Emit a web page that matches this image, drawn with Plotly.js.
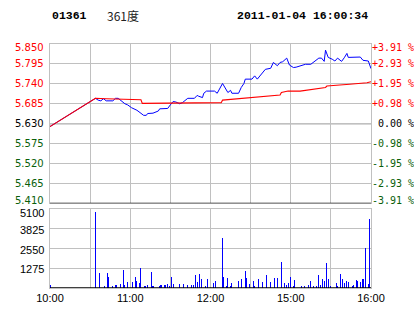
<!DOCTYPE html>
<html>
<head>
<meta charset="utf-8">
<script src="https://cdn.plot.ly/plotly-3.0.1.min.js"></script>
<style>html,body{margin:0;padding:0;background:#fff;}#chart{width:414px;height:314px;}</style>
</head>
<body>
<div id="chart"></div>
<script>
// ---- data (x = minutes since 10:00 open; 12:30 lunch joins 14:30 at minute 150) ----
var stockCode = "01361";
var stockName = "361度";
var stamp = "2011-01-04 16:00:34";
var prevClose = 5.630;

var priceMin = [0,34,36,38,40,42,47,49,51,53,55,56,58,61,65,68,70,72,73,77,81,82,88,90,92,94,97,99,101,103,108,110,111,114,115,117,123,125,129,131,133,135,136,141,143,145,146,151,153,155,158,161,165,167,170,172,174,177,179,182,184,187,191,195,198,201,203,205,206,208,211,213,215,218,220,222,223,226,232,234,238,240];
var priceVal = [5.622,5.700,5.695,5.693,5.699,5.693,5.693,5.700,5.700,5.693,5.688,5.685,5.682,5.674,5.667,5.658,5.653,5.653,5.658,5.659,5.665,5.671,5.672,5.682,5.691,5.690,5.685,5.688,5.693,5.700,5.700,5.708,5.706,5.702,5.714,5.720,5.720,5.714,5.741,5.730,5.716,5.722,5.714,5.714,5.730,5.741,5.753,5.753,5.762,5.753,5.767,5.780,5.783,5.799,5.790,5.799,5.801,5.811,5.792,5.785,5.786,5.790,5.794,5.794,5.803,5.811,5.811,5.802,5.833,5.813,5.808,5.803,5.811,5.802,5.812,5.824,5.813,5.814,5.814,5.805,5.803,5.782];

var avgMin = [0,34,42,56,68,69,110,111,128,129,150,172,173,178,187,199,204,206,207,221,224,237,240];
var avgVal = [5.622,5.700,5.699,5.697,5.696,5.686,5.686,5.688,5.688,5.695,5.702,5.709,5.716,5.720,5.720,5.725,5.728,5.730,5.734,5.737,5.739,5.743,5.746];

var volMin = [0,34,37,41,43,44,47,49,50,53,55,56,58,62,64,65,67,68,71,73,76,77,82,83,86,88,89,91,92,97,100,103,106,107,109,110,112,113,116,118,122,124,129,130,132,133,135,136,141,143,146,147,149,152,153,156,159,162,165,168,170,173,175,177,178,180,182,183,188,190,193,195,197,199,201,202,204,205,207,208,210,214,215,217,219,220,222,223,226,227,229,230,232,234,236,238,239];
var volVal = [215,4950,968,150,968,731,150,215,172,280,1184,215,409,409,731,473,301,1313,150,215,1054,150,150,215,215,280,150,731,280,280,280,215,215,215,818,409,925,602,150,602,344,473,3249,731,150,667,150,344,473,602,1119,667,280,473,150,602,409,861,409,667,667,1700,344,215,344,731,150,538,150,150,215,473,150,150,861,215,602,473,1635,602,150,344,150,925,602,344,473,409,150,215,538,473,409,602,2602,280,4476];

var priceTicks = [5.850,5.795,5.740,5.685,5.630,5.575,5.520,5.465,5.410];
var priceLabels = ["5.850","5.795","5.740","5.685","5.630","5.575","5.520","5.465","5.410"];
var pctLabels = ["+3.91 %","+2.93 %","+1.95 %","+0.98 %"," 0.00 %","-0.98 %","-1.95 %","-2.93 %","-3.91 %"];
var volTicks = [5100,3825,2550,1275];
var volLabels = ["5100","3825","2550","1275"];
var timeTicks = [0,30,60,90,120,150,180,210,240];
var timeLabels = ["10:00","","11:00","","12:00","","15:00","","16:00"];

// ---- styles ----
var RED = "#ff0000", GREEN = "#0a5f0a", GRID = "#c0c0c0";
function tone(v){ return v > prevClose + 1e-9 ? RED : (v < prevClose - 1e-9 ? GREEN : "#000000"); }

var traces = [
  {type:"bar", x: volMin, y: volVal, xaxis:"x", yaxis:"y2", width:0.8,
   marker:{color:"#0000ff", line:{width:0}}, hoverinfo:"skip"},
  {type:"scatter", mode:"lines", x: priceMin, y: priceVal, xaxis:"x2", yaxis:"y",
   line:{color:"#0000ff", width:1}, hoverinfo:"skip"},
  {type:"scatter", mode:"lines", x: avgMin, y: avgVal, xaxis:"x2", yaxis:"y",
   line:{color:"#ff0000", width:1.1}, hoverinfo:"skip"}
];

var ann = [];
priceTicks.forEach(function(v,i){
  var ys = i === 0 ? -3 : (i === priceTicks.length-1 ? 3 : 0);
  ann.push({xref:"paper", yref:"y", x:0, y:v, xanchor:"right", yanchor:"middle", xshift:-4, yshift:ys,
    text: priceLabels[i], showarrow:false, font:{family:"DejaVu Sans", size:10, color: tone(v)}});
  ann.push({xref:"paper", yref:"y", x:1, y:v, xanchor:"left", yanchor:"middle", xshift:-1, yshift:ys,
    text: pctLabels[i].replace(/ /g, "\u00a0"), showarrow:false,
    font:{family:"DejaVu Sans Mono", size:10, color: tone(v)}});
});
volTicks.forEach(function(v,i){
  ann.push({xref:"paper", yref:"y2", x:0, y:v, xanchor:"right", yanchor:"middle", xshift:-4, yshift: i===0 ? -4 : -1,
    text: volLabels[i], showarrow:false, font:{family:"Liberation Sans", size:11, color:"#000"}});
});
ann.push({xref:"paper", yref:"paper", x:0, y:1.115, xanchor:"left", yanchor:"middle", text:"<b>"+stockCode+"</b>",
  showarrow:false, font:{family:"Liberation Mono", size:11.5, color:"#000"}});
ann.push({xref:"paper", yref:"paper", x:0.172, y:1.118, xanchor:"left", yanchor:"middle", text:stockName,
  showarrow:false, font:{family:"Noto Sans CJK SC", size:12, color:"#222"}});
ann.push({xref:"paper", yref:"paper", x:0.997, y:1.115, xanchor:"right", yanchor:"middle", text:"<b>"+stamp+"</b>",
  showarrow:false, font:{family:"Liberation Mono", size:11.5, color:"#000"}});

var shapes = [
  {type:"line", xref:"paper", yref:"y", x0:0, x1:1, y0:prevClose, y1:prevClose, line:{color:"#000", width:1}, layer:"between"},
  {type:"line", xref:"paper", yref:"y", x0:0, x1:1, y0:5.410, y1:5.410, line:{color:"#000", width:1.3}},
  {type:"line", xref:"paper", yref:"y2", x0:0, x1:1, y0:0, y1:0, line:{color:"#000", width:1.3}}
];

var axBase = {showline:true, linecolor:GRID, linewidth:1, mirror:true, showgrid:true, gridcolor:GRID, gridwidth:1, zeroline:false, ticks:""};

var layout = {
  width:414, height:314, autosize:false,
  margin:{l:50, r:43, t:44, b:26, pad:0},
  paper_bgcolor:"#fff", plot_bgcolor:"#fff", showlegend:false, bargap:0,
  xaxis: Object.assign({}, axBase, {domain:[0,1], range:[0,240], anchor:"y2", tickmode:"array", tickvals:timeTicks, ticktext:timeLabels,
    tickfont:{family:"Liberation Sans", size:11, color:"#000"}, ticklen:0}),
  xaxis2: Object.assign({}, axBase, {domain:[0,1], range:[0,240], anchor:"y", tickmode:"array", tickvals:timeTicks, showticklabels:false}),
  yaxis: Object.assign({}, axBase, {domain:[0.347,1], range:[5.410,5.850], tickmode:"array", tickvals:priceTicks, showticklabels:false}),
  yaxis2: Object.assign({}, axBase, {domain:[0,0.3225], range:[0,5100], tickmode:"array", tickvals:volTicks, showticklabels:false}),
  annotations: ann,
  shapes: shapes
};

Plotly.newPlot("chart", traces, layout, {displayModeBar:false, staticPlot:true});
</script>
</body>
</html>
